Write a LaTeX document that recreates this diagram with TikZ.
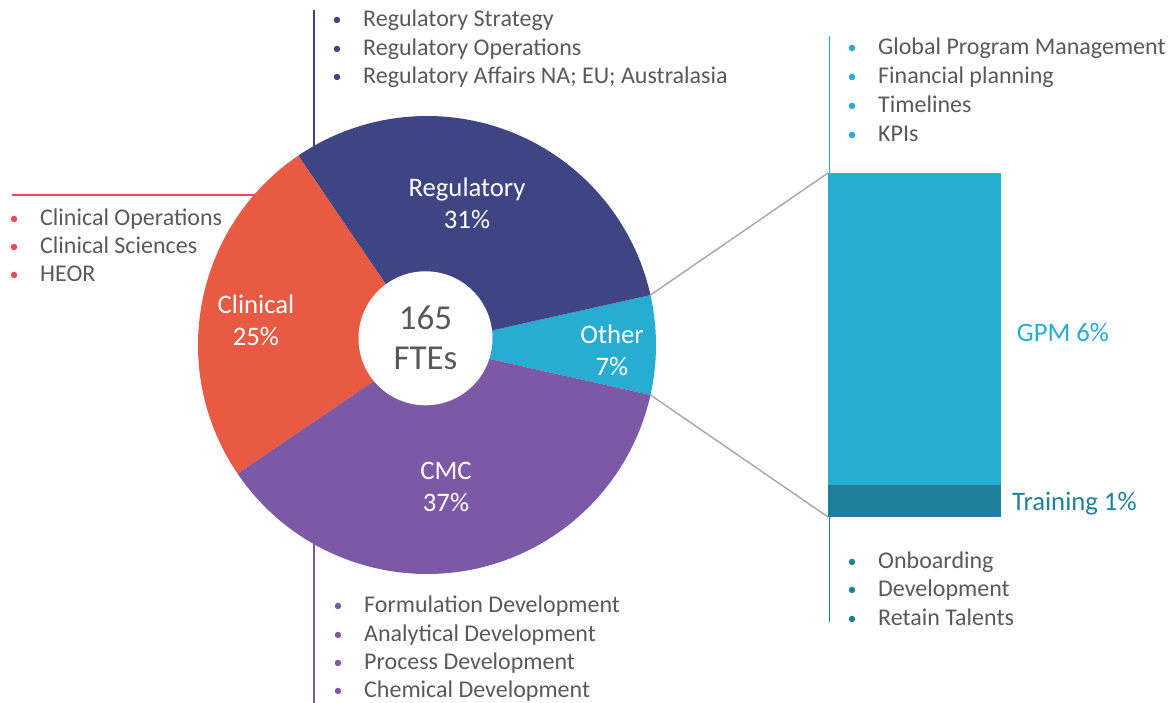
\documentclass[tikz,border=0pt]{standalone}
\usepackage{fontspec}
\setmainfont{Carlito}
\definecolor{regc}{HTML}{3F4482}
\definecolor{clinc}{HTML}{E85A44}
\definecolor{cmcc}{HTML}{7B59A5}
\definecolor{othc}{HTML}{27ACD2}
\definecolor{trainc}{HTML}{1E8199}
\definecolor{redc}{HTML}{E84A5F}
\definecolor{txtc}{HTML}{595959}
\definecolor{grayc}{HTML}{A6A6A6}
\newcommand{\bulitem}[4]{\node[bt] (#1) at #2 {\makebox[0pt][c]{\raisebox{1.2pt}{\fontsize{18}{18}\selectfont\textcolor{#3}{\textbullet}}}\hspace{26pt}#4};}
\begin{document}
\begin{tikzpicture}[x=1pt,y=1pt,
  bt/.style={font=\fontsize{24}{28.8}\selectfont, text=txtc, inner sep=0pt, anchor=base west},
  pl/.style={font=\fontsize{26.7}{32}\selectfont, text=white, align=center, inner sep=0pt},
  conn/.style={line width=1.8pt},
  bar/.style={inner sep=0pt, outer sep=0pt, anchor=north west, minimum width=173pt}]
\useasboundingbox (0,0) rectangle (1171,703);
\coordinate (O) at (427,358);
% leader lines (behind the pie)
\coordinate (regTop) at (314,693);
\coordinate (regEnd) at (314,540);
\draw[conn, draw=regc] (regTop) -- (regEnd);
\coordinate (cmcBot) at (314,0);
\coordinate (cmcEnd) at (314,180);
\draw[conn, draw=cmcc] (cmcEnd) -- (cmcBot);
\coordinate (clinL) at (12,508);
\coordinate (clinEnd) at (300,508);
\draw[conn, draw=redc] (clinL) -- (clinEnd);
% pie slices
\fill[othc] (O) -- ++(-12.6:229) arc[start angle=-12.6, end angle=12.6, radius=229] -- cycle;
\fill[regc] (O) -- ++(12.6:229) arc[start angle=12.6, end angle=124.2, radius=229] -- cycle;
\fill[clinc] (O) -- ++(124.2:229) arc[start angle=124.2, end angle=214.2, radius=229] -- cycle;
\fill[cmcc] (O) -- ++(214.2:229) arc[start angle=214.2, end angle=347.4, radius=229] -- cycle;
\fill[white] (425.5,364.7) circle[radius=67];
\node[font=\fontsize{35}{40}\selectfont, text=txtc, align=center, inner sep=0pt] (ftes) at (425.5,365) {165\\FTEs};
% slice labels
\node[pl] (regl) at (467,500) {Regulatory\\31\%};
\node[pl] (clinl) at (256,383) {Clinical\\25\%};
\node[pl] (othl) at (612,353) {Other\\7\%};
\node[pl] (cmcl) at (446,216.5) {CMC\\37\%};
% bar of pie
\node[bar, fill=othc, minimum height=312pt] (gpm) at (828,530) {};
\node[bar, fill=trainc, minimum height=32pt] (train) at (828,218) {};
\coordinate (othTop) at (650.5,408);
\coordinate (othBot) at (650.5,308);
\draw[line width=1.4pt, draw=grayc] (othTop) -- (gpm.north west);
\draw[line width=1.4pt, draw=grayc] (othBot) -- (train.south west);
\coordinate (gpmTop) at (829.5,667);
\draw[conn, draw=othc] (gpmTop) -- (gpmTop |- gpm.north);
\coordinate (trBot) at (829.5,81);
\draw[conn, draw=trainc] (trBot |- train.south) -- (trBot);
\node[font=\fontsize{26.7}{32}\selectfont, text=othc, inner sep=0pt] (gpml) at (1063,370) {GPM 6\%};
\node[font=\fontsize{26.7}{32}\selectfont, text=trainc, inner sep=0pt, anchor=west] (trl) at (1012,199.5) {Training 1\%};
% bullet lists
\bulitem{r1}{(337,676)}{regc}{Regulatory Strategy}
\bulitem{r2}{(337,647.5)}{regc}{Regulatory Operations}
\bulitem{r3}{(337,619)}{regc}{Regulatory Affairs NA; EU; Australasia}
\bulitem{c1}{(14,477.5)}{redc}{Clinical Operations}
\bulitem{c2}{(14,449)}{redc}{Clinical Sciences}
\bulitem{c3}{(14,421)}{redc}{HEOR}
\bulitem{m1}{(338,90)}{cmcc}{Formulation Development}
\bulitem{m2}{(338,61.5)}{cmcc}{Analytical Development}
\bulitem{m3}{(338,33)}{cmcc}{Process Development}
\bulitem{m4}{(338,5)}{cmcc}{Chemical Development}
\bulitem{g1}{(852,648)}{othc}{Global Program Management}
\bulitem{g2}{(852,619)}{othc}{Financial planning}
\bulitem{g3}{(852,590)}{othc}{Timelines}
\bulitem{g4}{(852,561)}{othc}{KPIs}
\bulitem{t1}{(852,134)}{trainc}{Onboarding}
\bulitem{t2}{(852,106)}{trainc}{Development}
\bulitem{t3}{(852,77)}{trainc}{Retain Talents}
\end{tikzpicture}
\end{document}
